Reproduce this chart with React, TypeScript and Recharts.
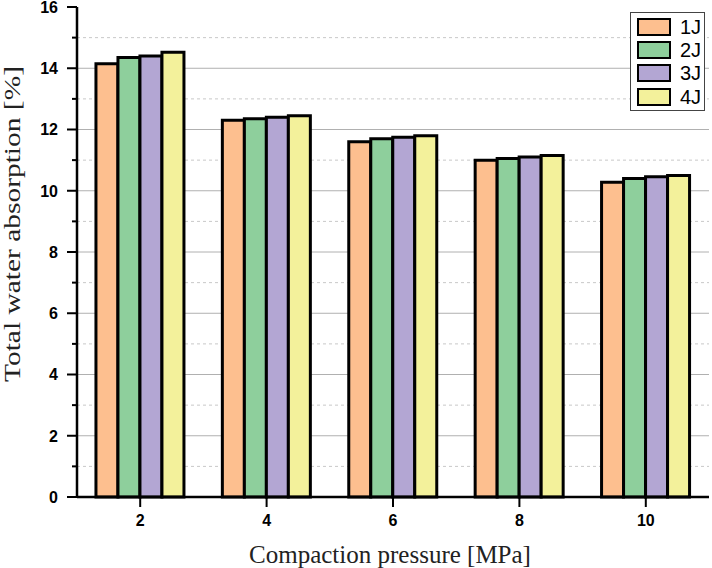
import React from "react";
import {
  BarChart,
  Bar,
  XAxis,
  YAxis,
  CartesianGrid,
  Legend,
} from "recharts";

// compaction pressure [MPa]
const pressures = ["2", "4", "6", "8", "10"];

// total water absorption [%] per series
const j1 = [14.15, 12.3, 11.6, 11.0, 10.28];
const j2 = [14.35, 12.35, 11.7, 11.05, 10.4];
const j3 = [14.4, 12.4, 11.75, 11.1, 10.46];
const j4 = [14.52, 12.45, 11.8, 11.15, 10.5];

const yTicksAll = [0, 1, 2, 3, 4, 5, 6, 7, 8, 9, 10, 11, 12, 13, 14, 15, 16];
const yTicksMajor = [2, 4, 6, 8, 10, 12, 14];
const yTicksMinor = [1, 3, 5, 7, 9, 11, 13, 15];

const series = [
  { key: "j1", name: "1J", color: "#FDBF8F" },
  { key: "j2", name: "2J", color: "#8ECF9C" },
  { key: "j3", name: "3J", color: "#B3A6D3" },
  { key: "j4", name: "4J", color: "#F3F19B" },
];

const data = pressures.map((p, i) => ({
  pressure: p,
  j1: j1[i],
  j2: j2[i],
  j3: j3[i],
  j4: j4[i],
}));

const tickFont = '"Liberation Sans", Arial, sans-serif';
const titleFont = '"Liberation Serif", "Times New Roman", serif';

// map tick values to pixel rows through the axis scale
const gridRows = (values: number[]) => (props: any) => {
  const sc = props?.yAxis?.scale;
  if (!sc) return [];
  const f = typeof sc === "function" ? sc : sc.map ? (v: number) => sc.map(v) : null;
  if (!f) return [];
  return values.map((v) => f(v));
};

const YTick = (props: any) => {
  const { x, y, payload } = props;
  const v = payload.value;
  const ax = x + 10; // tickSize 10, tickMargin 0
  const major = v % 2 === 0;
  return (
    <g>
      <line x1={ax} x2={ax - (major ? 10 : 5)} y1={y} y2={y} stroke="#000" strokeWidth={2} />
      {major && (
        <text
          x={ax - 19}
          y={y}
          dy="0.36em"
          textAnchor="end"
          fontFamily={tickFont}
          fontWeight="bold"
          fontSize={16}
          fill="#000"
        >
          {v}
        </text>
      )}
    </g>
  );
};

const YTitle = (props: any) => {
  const { viewBox } = props;
  const cx = viewBox.x + 20;
  const cy = viewBox.y + viewBox.height / 2 - 28;
  return (
    <text
      x={cx}
      y={cy}
      transform={`rotate(-90 ${cx} ${cy})`}
      textAnchor="middle"
      fontFamily={titleFont}
      fontSize={24}
      textLength={316}
      lengthAdjust="spacingAndGlyphs"
      fill="#222"
    >
      Total water absorption [%]
    </text>
  );
};

const XTitle = (props: any) => {
  const { viewBox } = props;
  const cx = viewBox.x + viewBox.width / 2 - 3;
  const cy = viewBox.y + 66;
  return (
    <text x={cx} y={cy} textAnchor="middle" fontFamily={titleFont} fontSize={25} fill="#222">
      Compaction pressure [MPa]
    </text>
  );
};

const LegendBox = () => (
  <div
    style={{
      border: "1px solid #444",
      background: "#fff",
      padding: "2px 3px 2px 6px",
      width: 64,
    }}
  >
    {series.map((s) => (
      <div key={s.key} style={{ display: "flex", alignItems: "center", height: 23.3 }}>
        <span
          style={{
            display: "inline-block",
            width: 30,
            height: 14,
            background: s.color,
            border: "2.5px solid #000",
          }}
        />
        <span
          style={{
            marginLeft: "auto",
            fontFamily: tickFont,
            fontSize: 20,
            color: "#000",
            lineHeight: 1,
          }}
        >
          {s.name}
        </span>
      </div>
    ))}
  </div>
);

export default function App() {
  return (
    <div style={{ position: "absolute", left: 0, top: 0, width: 712, height: 568, background: "#fff" }}>
      <BarChart
        width={712}
        height={568}
        data={data}
        margin={{ top: 7, right: 3, left: 0, bottom: 0 }}
        barGap={0}
        barCategoryGap="15%"
      >
        <CartesianGrid
          yAxisId="main"
          vertical={false}
          stroke="#c8c8c8"
          strokeDasharray="3 3"
          horizontalCoordinatesGenerator={gridRows(yTicksMinor)}
        />
        <CartesianGrid
          yAxisId="main"
          vertical={false}
          stroke="#b0b0b0"
          horizontalCoordinatesGenerator={gridRows(yTicksMajor)}
        />
        <XAxis
          dataKey="pressure"
          height={71}
          axisLine={{ stroke: "#000", strokeWidth: 2.5 }}
          tickLine={{ stroke: "#000", strokeWidth: 2 }}
          tickSize={10}
          tickMargin={8}
          tick={{ fill: "#000", fontFamily: tickFont, fontWeight: "bold", fontSize: 16 }}
          label={<XTitle />}
        />
        <XAxis
          xAxisId="top"
          orientation="top"
          dataKey="pressure"
          height={0}
          axisLine={{ stroke: "#000", strokeWidth: 2.5 }}
          tick={false}
          tickLine={false}
        />
        <YAxis
          yAxisId="main"
          width={77}
          domain={[0, 16]}
          ticks={yTicksAll}
          interval={0}
          tickSize={10}
          tickMargin={0}
          tickLine={false}
          axisLine={{ stroke: "#000", strokeWidth: 2.5 }}
          tick={<YTick />}
          label={<YTitle />}
        />
        <YAxis
          yAxisId="right"
          orientation="right"
          width={0}
          domain={[0, 16]}
          axisLine={{ stroke: "#000", strokeWidth: 2.5 }}
          tick={false}
          tickLine={false}
        />
        <Legend
          layout="vertical"
          align="center"
          verticalAlign="middle"
          wrapperStyle={{ left: 630, top: 12, width: 74 }}
          content={<LegendBox />}
        />
        {series.map((s) => (
          <Bar
            key={s.key}
            yAxisId="main"
            dataKey={s.key}
            name={s.name}
            fill={s.color}
            stroke="#000"
            strokeWidth={3}
            isAnimationActive={false}
          />
        ))}
      </BarChart>
    </div>
  );
}
